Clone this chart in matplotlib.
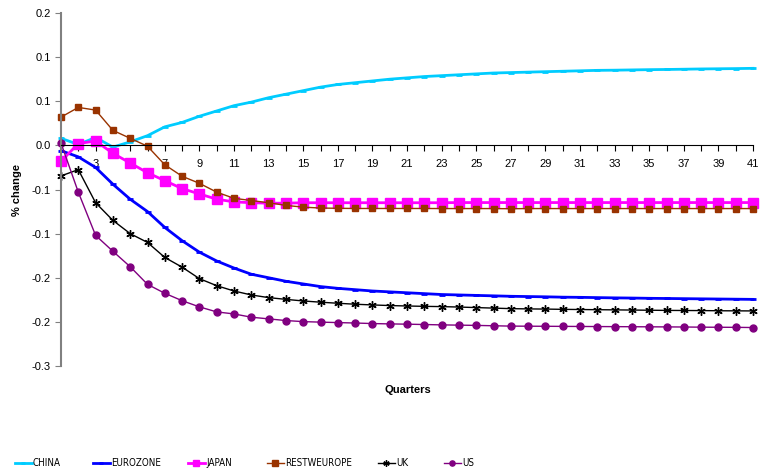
import matplotlib
matplotlib.use('Agg')
import matplotlib.pyplot as plt
from matplotlib.ticker import FixedLocator, MultipleLocator

plt.rcParams['font.family'] = ['Liberation Sans', 'DejaVu Sans']

quarters = list(range(1, 42))

china = [0.008, 0.001, 0.009, -0.002, 0.004, 0.011, 0.021, 0.026, 0.033, 0.039,
         0.045, 0.049, 0.054, 0.058, 0.062, 0.066, 0.069, 0.071, 0.073, 0.075,
         0.0765, 0.078, 0.079, 0.080, 0.081, 0.082, 0.0825, 0.083, 0.0835, 0.084,
         0.0845, 0.085, 0.0852, 0.0855, 0.0858, 0.086, 0.0863, 0.0866, 0.0868, 0.087,
         0.0873]
eurozone = [-0.006, -0.013, -0.025, -0.044, -0.061, -0.075, -0.093, -0.108, -0.121, -0.131,
            -0.139, -0.146, -0.150, -0.154, -0.157, -0.160, -0.162, -0.1635, -0.165, -0.166,
            -0.167, -0.168, -0.169, -0.1695, -0.170, -0.1705, -0.171, -0.1713, -0.1716, -0.172,
            -0.1722, -0.1725, -0.1728, -0.173, -0.1733, -0.1735, -0.1737, -0.1739, -0.1741, -0.1743,
            -0.1745]
japan = [-0.018, 0.002, 0.005, -0.009, -0.020, -0.031, -0.040, -0.049, -0.055, -0.061,
         -0.064, -0.065, -0.0655, -0.0655, -0.065, -0.065, -0.065, -0.065, -0.065, -0.065,
         -0.065, -0.065, -0.065, -0.0648, -0.0648, -0.0648, -0.0648, -0.0648, -0.0648, -0.0648,
         -0.0648, -0.0648, -0.0648, -0.0648, -0.0648, -0.0648, -0.0648, -0.0648, -0.0648, -0.0648,
         -0.0648]
restweurope = [0.032, 0.043, 0.040, 0.017, 0.008, -0.001, -0.022, -0.035, -0.043, -0.053,
               -0.060, -0.0625, -0.065, -0.068, -0.070, -0.071, -0.0713, -0.0715, -0.0715, -0.0715,
               -0.0715, -0.0715, -0.0716, -0.0716, -0.0716, -0.0716, -0.0718, -0.0716, -0.0716, -0.0716,
               -0.0716, -0.0716, -0.0716, -0.0716, -0.0716, -0.0716, -0.0716, -0.0716, -0.0716, -0.0716,
               -0.0716]
uk = [-0.0346, -0.0275, -0.065, -0.085, -0.100, -0.110, -0.127, -0.138, -0.151, -0.159,
      -0.165, -0.1695, -0.1725, -0.1745, -0.1763, -0.1777, -0.1789, -0.180, -0.1808, -0.1815,
      -0.182, -0.1824, -0.1827, -0.1832, -0.1838, -0.1844, -0.185, -0.1853, -0.1855, -0.1858,
      -0.186, -0.1862, -0.1864, -0.1866, -0.1868, -0.187, -0.1871, -0.1872, -0.1874, -0.1875,
      -0.1876]
us = [0.0026, -0.053, -0.102, -0.120, -0.1375, -0.1575, -0.1676, -0.176, -0.183, -0.1887,
      -0.191, -0.1947, -0.1966, -0.1985, -0.1997, -0.2003, -0.2008, -0.2013, -0.2019, -0.2023,
      -0.2026, -0.203, -0.2034, -0.2037, -0.204, -0.2044, -0.2048, -0.2049, -0.205, -0.2051,
      -0.2052, -0.2053, -0.2054, -0.2055, -0.2056, -0.2057, -0.2058, -0.206, -0.2061, -0.2062,
      -0.2064]

ytick_values = [0.15, 0.10, 0.05, 0.0, -0.05, -0.10, -0.15, -0.20, -0.25]
ytick_labels = ['0.2', '0.1', '0.1', '0.0', '-0.1', '-0.1', '-0.2', '-0.2', '-0.3']
xtick_labels = [str(q) for q in range(1, 42, 2)]

fig = plt.figure(figsize=(7.62, 4.76), dpi=100)
ax = fig.add_axes([61 / 762, 1 - 366 / 476, (753 - 61) / 762, (366 - 13) / 476])

lines = []
lines += ax.plot(quarters, china, color='#00CCFF', lw=2, marker='_', ms=4, mew=2, label='CHINA', clip_on=False)
lines += ax.plot(quarters, eurozone, color='#0000FF', lw=2, marker='_', ms=4, mew=2, label='EUROZONE', clip_on=False)
lines += ax.plot(quarters, japan, color='#FF00FF', lw=2, marker='s', ms=6.5, label='JAPAN', clip_on=False)
lines += ax.plot(quarters, restweurope, color='#993300', lw=1, marker='s', ms=5, label='RESTWEUROPE', clip_on=False)
lines += ax.plot(quarters, uk, color='black', lw=1, marker=(6, 2, 0), ms=6, mew=1, label='UK', clip_on=False)
lines += ax.plot(quarters, us, color='#800080', lw=1, marker='o', ms=5, label='US', clip_on=False)

ax.set_xlim(1, 41)
ax.set_ylim(-0.25, 0.15)

ax.spines['top'].set_visible(False)
ax.spines['right'].set_visible(False)
ax.spines['bottom'].set_position(('data', 0))
ax.spines['bottom'].set_color('black')
ax.spines['left'].set_color('#808080')
ax.spines['left'].set_linewidth(1.5)

ax.xaxis.set_major_locator(FixedLocator(list(range(1, 42, 2))))
ax.set_xticklabels(xtick_labels)
ax.xaxis.set_minor_locator(MultipleLocator(1))
ax.tick_params(axis='x', which='both', direction='out', length=4, width=0.8, labelsize=8, pad=6)

ax.yaxis.set_major_locator(FixedLocator(ytick_values))
ax.set_yticklabels(ytick_labels)
ax.tick_params(axis='y', direction='out', length=4, width=0.8, color='#808080', labelsize=8)

fig.text(17 / 762, 1 - 190 / 476, '% change', rotation=90, ha='center', va='center',
         fontsize=8, fontweight='bold')
fig.text(408 / 762, 1 - 390 / 476, 'Quarters', ha='center', va='center',
         fontsize=8, fontweight='bold')

# legend entries one by one, Excel spacing
legend_x = [15, 93, 188, 267, 378, 444]
for ln, lx in zip(lines, legend_x):
    leg = fig.legend([ln], [ln.get_label()], loc='center left',
                     bbox_to_anchor=(lx / 762, 1 - 463 / 476),
                     frameon=False, handlelength=1.7, handletextpad=0.15,
                     borderaxespad=0, borderpad=0, markerscale=0.75,
                     prop={'family': 'DejaVu Sans', 'stretch': 'condensed', 'size': 7})

fig.savefig('out.png', dpi=100)
